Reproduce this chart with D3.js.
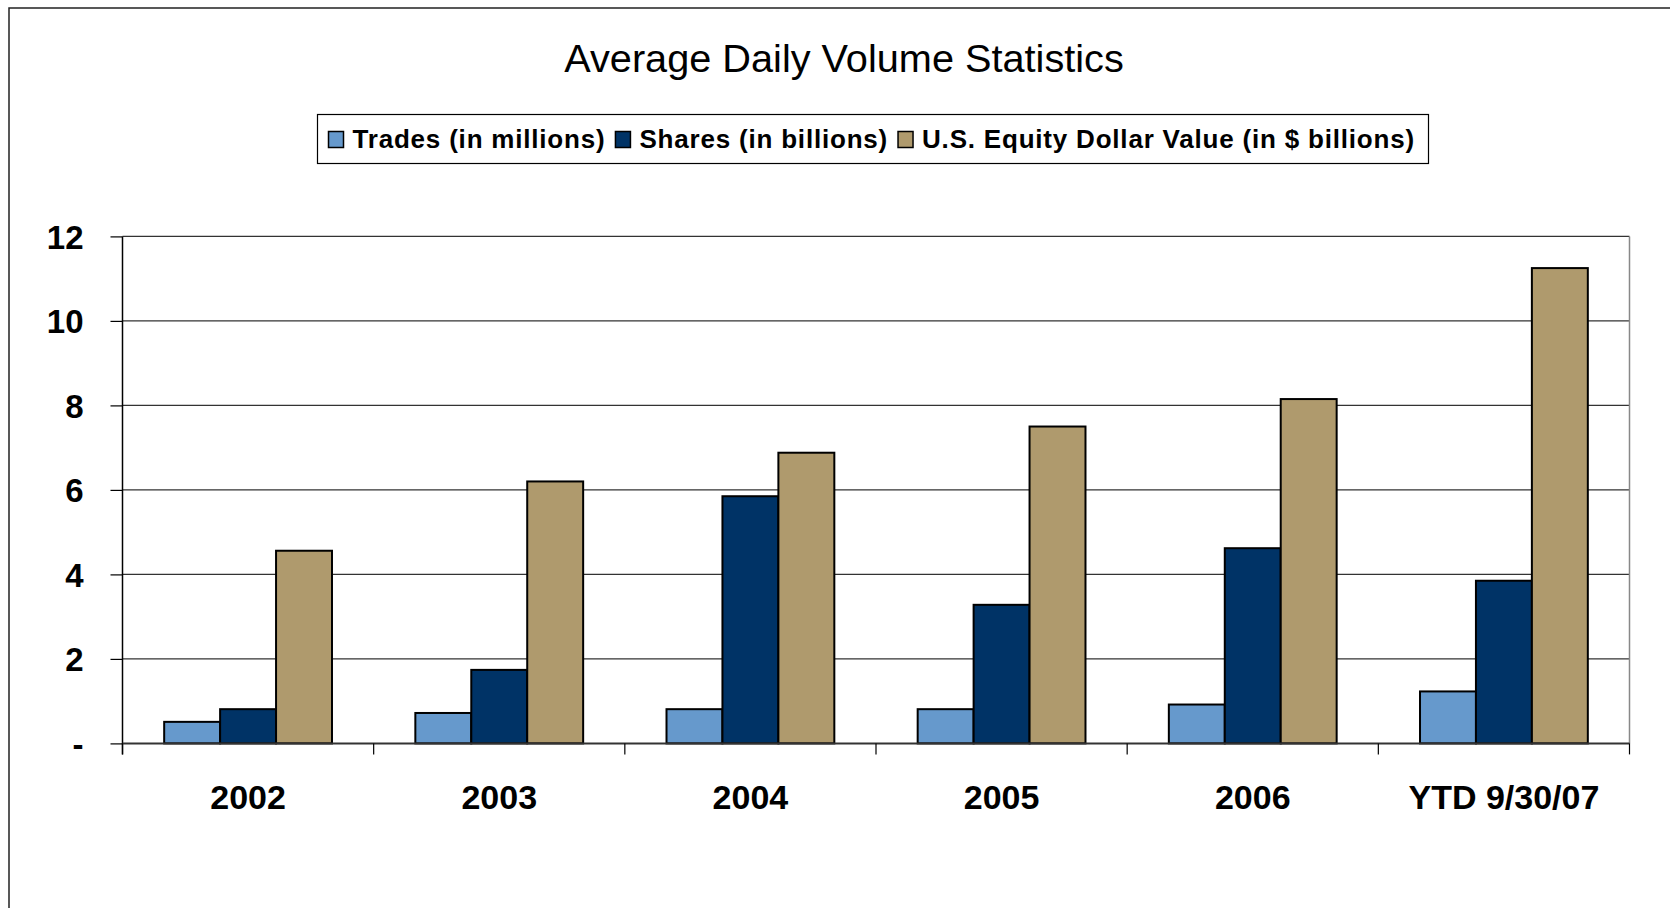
<!DOCTYPE html>
<html>
<head>
<meta charset="utf-8">
<script src="https://cdn.jsdelivr.net/npm/d3@7"></script>
<style>
body { margin: 0; background: #fff; }
svg text { font-family: "Liberation Sans", Arial, sans-serif; }
</style>
</head>
<body>
<svg id="chart" width="1670" height="908"></svg>
<script>
var categories = ["2002", "2003", "2004", "2005", "2006", "YTD 9/30/07"];
var seriesNames = ["Trades (in millions)", "Shares (in billions)", "U.S. Equity Dollar Value (in $ billions)"];
var seriesColors = ["#6699CC", "#003366", "#AF9A6D"];
var trades = [0.51, 0.72, 0.81, 0.81, 0.92, 1.23];
var shares = [0.81, 1.74, 5.85, 3.28, 4.62, 3.85];
var dollarValue = [4.56, 6.20, 6.88, 7.50, 8.15, 11.25];
var yTicks = [0, 2, 4, 6, 8, 10, 12];

var svg = d3.select("svg#chart");
var margin = {top: 236.4, right: 40.5, bottom: 164.6, left: 122.5};
var width = 1670 - margin.left - margin.right;
var height = 908 - margin.top - margin.bottom;

// outer frame, runs off the right and bottom edges
svg.append("rect")
	.attr("x", 9).attr("y", 8)
	.attr("width", 1700).attr("height", 1000)
	.attr("fill", "none").attr("stroke", "#222").attr("stroke-width", 1.5);

svg.append("text")
	.attr("x", 844).attr("y", 72)
	.attr("text-anchor", "middle")
	.style("font-size", "39.7px")
	.text("Average Daily Volume Statistics");

// legend
var legend = svg.append("g");
var lx = 328.5;
seriesNames.forEach(function(name, i) {
	legend.append("rect")
		.attr("x", lx).attr("y", 131.5)
		.attr("width", 15).attr("height", 16)
		.attr("fill", seriesColors[i]).attr("stroke", "#000").attr("stroke-width", 1.5);
	var t = legend.append("text")
		.attr("x", lx + 24).attr("y", 148)
		.style("font-size", "26px").style("font-weight", "bold")
		.style("letter-spacing", "0.8px")
		.text(name);
	lx = lx + 24 + t.node().getComputedTextLength() + 10;
});
legend.insert("rect", ":first-child")
	.attr("x", 317.5).attr("y", 114.5)
	.attr("width", 1111).attr("height", 49)
	.attr("fill", "#fff").attr("stroke", "#000").attr("stroke-width", 1.2);

var g = svg.append("g")
	.attr("transform", "translate(" + margin.left + "," + margin.top + ")");

var x0 = d3.scaleBand().domain(categories).range([0, width]).padding(0);
var x1 = d3.scaleBand().domain([0, 1, 2]).range([0, x0.bandwidth()])
	.paddingInner(0).paddingOuter(0.745);
var y = d3.scaleLinear().domain([0, 12]).range([height, 0]);

// gridlines
g.append("g").selectAll("line")
	.data(yTicks.slice(1))
	.enter().append("line")
	.attr("x1", 0).attr("x2", width)
	.attr("y1", function(d) { return y(d); })
	.attr("y2", function(d) { return y(d); })
	.attr("stroke", "#333").attr("stroke-width", 1.2);

g.append("line")
	.attr("x1", width).attr("x2", width)
	.attr("y1", 0).attr("y2", height)
	.attr("stroke", "#888").attr("stroke-width", 1.5);

var rows = categories.map(function(c, i) {
	return {cat: c, vals: [trades[i], shares[i], dollarValue[i]]};
});

var groups = g.append("g").selectAll("g")
	.data(rows)
	.enter().append("g")
	.attr("transform", function(d) { return "translate(" + x0(d.cat) + ",0)"; });

groups.selectAll("rect")
	.data(function(d) { return d.vals; })
	.enter().append("rect")
	.attr("x", function(d, i) { return x1(i); })
	.attr("width", x1.bandwidth())
	.attr("y", function(d) { return y(d); })
	.attr("height", function(d) { return height - y(d); })
	.attr("fill", function(d, i) { return seriesColors[i]; })
	.attr("stroke", "#000").attr("stroke-width", 2);

// y axis
var yAxis = d3.axisLeft(y).tickValues(yTicks)
	.tickSize(12).tickPadding(27)
	.tickFormat(function(d) { return d === 0 ? "-" : d; });
var ya = g.append("g").call(yAxis);
ya.select(".domain").remove();
ya.selectAll(".tick line").attr("stroke", "#000").attr("stroke-width", 1.2);
ya.selectAll("text")
	.style("font-size", "33px").style("font-weight", "bold")
	.attr("fill", "#000").attr("dy", "0.36em");
g.append("line")
	.attr("x1", 0).attr("x2", 0)
	.attr("y1", 0).attr("y2", height + 11)
	.attr("stroke", "#000").attr("stroke-width", 1.5);

// x axis
var xa = g.append("g").attr("transform", "translate(0," + height + ")");
xa.append("line")
	.attr("x1", 0).attr("x2", width)
	.attr("stroke", "#333").attr("stroke-width", 2);
xa.selectAll("line.tk")
	.data(categories.concat(["end"]))
	.enter().append("line")
	.attr("class", "tk")
	.attr("x1", function(d, i) { return i * x0.step(); })
	.attr("x2", function(d, i) { return i * x0.step(); })
	.attr("y1", 0).attr("y2", 11)
	.attr("stroke", "#000").attr("stroke-width", 1.2);
xa.selectAll("text")
	.data(categories)
	.enter().append("text")
	.attr("x", function(d) { return x0(d) + x0.bandwidth() / 2; })
	.attr("y", 66)
	.attr("text-anchor", "middle")
	.style("font-size", "34px").style("font-weight", "bold")
	.text(function(d) { return d; });
</script>
</body>
</html>
